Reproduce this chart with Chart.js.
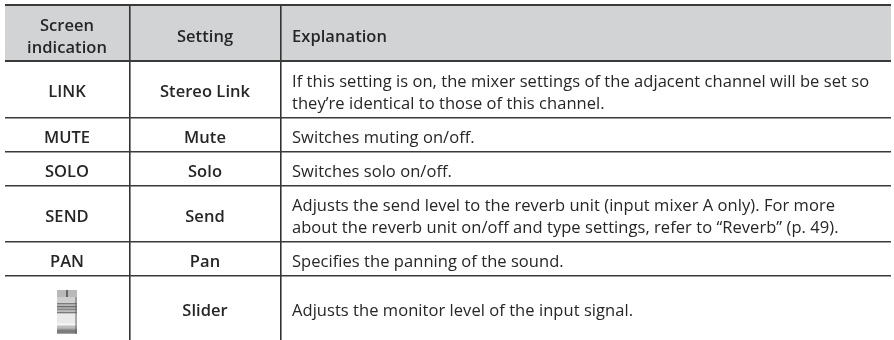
<!DOCTYPE html>
<html><head><meta charset="utf-8">
<style>html,body{margin:0;padding:0;background:#fff}#w{width:894px;height:340px;position:relative}</style>
<script src="https://cdn.jsdelivr.net/npm/chart.js@4"></script></head>
<body><div id="w"><canvas id="c"></canvas></div>
<script>
const headers = ["Screen\nindication", "Setting", "Explanation"];
const screenIndications = ["LINK", "MUTE", "SOLO", "SEND", "PAN", ""];
const settings = ["Stereo Link", "Mute", "Solo", "Send", "Pan", "Slider"];
const explanations = [
  ["If this setting is on, the mixer settings of the adjacent channel will be set so", "they\u2019re identical to those of this channel."],
  ["Switches muting on/off."],
  ["Switches solo on/off."],
  ["Adjusts the send level to the reverb unit (input mixer A only). For more", "about the reverb unit on/off and type settings, refer to \u201cReverb\u201d (p. 49)."],
  ["Specifies the panning of the sound."],
  ["Adjusts the monitor level of the input signal."]
];
const columnEdges = [124.5, 276];
const rowEdges = [0, 56, 112.5, 147, 181, 236.5, 270.5];
const headerBaselines = [[26, 47.7], [36.7], [36.7]];
const cellBaselines = [92.3, 137.7, 171.7, 216.7, 261.7, 311];
const textBaselines = [[81.7, 103.5], [138], [172], [206, 227.7], [261.7], [311]];
const sliderBands = [[7,"#b9b9b9"],[6,"#cfcfcf"],[1.5,"#7c7c7c"],[1.5,"#b4b4b4"],[1.5,"#6f6f6f"],[1.5,"#a8a8a8"],[1.5,"#858585"],[1.5,"#bdbdbd"],[1.5,"#7a7a7a"],[10,"#e9e9e9"],[2,"#f5f5f5"],[3,"#bdbdbd"],[1,"#8a8a8a"],[4,"#7d7d7d"]];

const tablePlugin = {
  id: 'table',
  beforeDraw(chart) {
    const {ctx, scales:{x,y}} = chart;
    ctx.fillStyle = '#d1d3d4';
    ctx.fillRect(x.getPixelForValue(0), y.getPixelForValue(0), x.getPixelForValue(886)-x.getPixelForValue(0), y.getPixelForValue(56)-y.getPixelForValue(0));
  },
  afterDraw(chart) {
    const {ctx, scales:{x,y}} = chart;
    const c1 = x.getPixelForValue(62), c2 = x.getPixelForValue(200), c3 = x.getPixelForValue(287);
    const body = '16.5px "Open Sans"', bold = '600 16.5px "Open Sans"';
    ctx.save();
    ctx.fillStyle = '#262626';
    ctx.textBaseline = 'alphabetic';
    ctx.letterSpacing = '0.05px';
    ctx.font = bold;
    ctx.textAlign = 'center';
    headers[0].split('\n').forEach((t,i)=>ctx.fillText(t, c1, y.getPixelForValue(headerBaselines[0][i])));
    ctx.fillText(headers[1], c2, y.getPixelForValue(headerBaselines[1][0]));
    ctx.textAlign = 'left';
    ctx.fillText(headers[2], c3, y.getPixelForValue(headerBaselines[2][0]));
    ctx.textAlign = 'center';
    screenIndications.forEach((t,i)=>{ if(t) ctx.fillText(t, c1, y.getPixelForValue(cellBaselines[i])); });
    settings.forEach((t,i)=>ctx.fillText(t, c2, y.getPixelForValue(cellBaselines[i])));
    ctx.font = body;
    ctx.textAlign = 'left';
    explanations.forEach((lines,i)=>lines.forEach((t,j)=>ctx.fillText(t, c3, y.getPixelForValue(textBaselines[i][j]))));
    // slider icon
    const sx = x.getPixelForValue(52), sw = x.getPixelForValue(72) - sx;
    let top = y.getPixelForValue(285);
    sliderBands.forEach(([h,col])=>{
      ctx.fillStyle = col;
      ctx.fillRect(sx, top, sw, h+0.2);
      top += h;
    });
    ctx.fillStyle = 'rgba(90,90,90,0.45)';
    ctx.fillRect(x.getPixelForValue(70), y.getPixelForValue(292), 2, 37);
    ctx.fillStyle = '#666';
    ctx.fillRect(x.getPixelForValue(61), y.getPixelForValue(285), 2, 7);
    ctx.restore();
  }
};
new Chart(document.getElementById('c'), {
  type: 'scatter',
  data: { datasets: [{ data: [] }] },
  plugins: [tablePlugin],
  options: {
    responsive: true, maintainAspectRatio: false, animation: false,
    layout: { padding: { left: 5, right: 3, top: 5, bottom: 0 } },
    plugins: { legend: {display:false}, tooltip:{enabled:false}, title:{display:false} },
    scales: {
      x: { type:'linear', min:0, max:886, border:{display:false},
        afterBuildTicks: a => { a.ticks = columnEdges.map(v=>({value:v})); },
        ticks:{display:false},
        grid:{color:'#333', lineWidth:1.6, drawTicks:false} },
      y: { type:'linear', reverse:true, min:0, max:335, border:{display:false},
        afterBuildTicks: a => { a.ticks = rowEdges.map(v=>({value:v})); },
        ticks:{display:false},
        grid:{ color:'#3a3a3a', lineWidth: c => (c.index<=1 ? 2 : 1.6), drawTicks:false } }
    }
  }
});
</script></body></html>
